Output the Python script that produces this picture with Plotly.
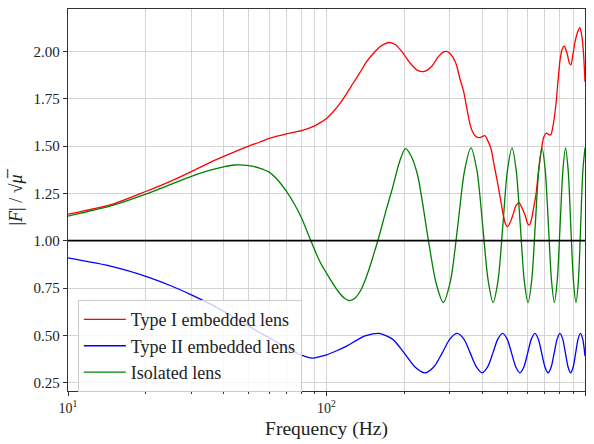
import plotly.graph_objects as go

# Frequency samples (Hz) and |F|/sqrt(mu) for each lens configuration
freq_type1 = [10, 15, 20, 25, 30, 35, 40, 45, 50, 55, 60, 70, 80, 90, 95, 100, 106, 112, 120,
              127, 135, 143, 152, 161, 168, 175, 185, 198, 210, 225, 239, 255, 270, 282, 292,
              300, 316, 329, 339, 349, 359, 369, 379, 392, 410, 420, 433, 445, 458, 471, 484,
              492, 502, 515, 527, 541, 556, 572, 588, 600, 610, 620, 632, 646, 660, 679, 694,
              710, 725, 737, 755, 773, 787, 801, 815, 831, 843, 856, 869, 882, 897, 915, 935,
              955, 970, 985, 1000]
amp_type1 = [1.14, 1.195, 1.26, 1.315, 1.365, 1.41, 1.445, 1.475, 1.50, 1.52, 1.54, 1.564, 1.581,
             1.607, 1.625, 1.646, 1.68, 1.72, 1.78, 1.833, 1.89, 1.946, 1.99, 2.024, 2.04, 2.047,
             2.035, 1.99, 1.94, 1.90, 1.894, 1.92, 1.97, 1.995, 2.0, 1.99, 1.94, 1.85, 1.79, 1.70,
             1.616, 1.57, 1.55, 1.545, 1.555, 1.53, 1.486, 1.40, 1.313, 1.22, 1.13, 1.09, 1.074,
             1.10, 1.139, 1.185, 1.20, 1.17, 1.13, 1.09, 1.083, 1.11, 1.17, 1.243, 1.36, 1.486,
             1.55, 1.568, 1.56, 1.559, 1.62, 1.729, 1.85, 1.955, 2.01, 2.028, 2.01, 1.98, 1.94,
             1.929, 1.98, 2.05, 2.10, 2.125, 2.09, 2.007, 1.84]

freq_type2 = [10, 15, 20, 25, 30, 35, 40, 45, 50, 55, 60, 65, 70, 75, 80, 88, 95, 100, 110, 120,
              130, 140, 150, 160, 180, 200, 220, 240, 260, 280, 300, 320, 340, 360, 380, 400,
              420, 440, 460, 480, 500, 520, 540, 560, 580, 600, 620, 640, 660, 680, 700, 720,
              740, 760, 780, 800, 820, 840, 860, 880, 900, 920, 940, 960, 980, 1000]
amp_type2 = [0.909, 0.862, 0.812, 0.762, 0.714, 0.67, 0.627, 0.588, 0.549, 0.515, 0.487, 0.46,
             0.435, 0.414, 0.396, 0.380, 0.389, 0.397, 0.42, 0.444, 0.472, 0.496, 0.507, 0.510,
             0.48, 0.406, 0.333, 0.302, 0.333, 0.406, 0.48, 0.51, 0.48, 0.406, 0.333, 0.302,
             0.333, 0.406, 0.48, 0.51, 0.48, 0.406, 0.333, 0.302, 0.333, 0.406, 0.48, 0.51,
             0.48, 0.406, 0.333, 0.302, 0.333, 0.406, 0.48, 0.51, 0.48, 0.406, 0.333, 0.302,
             0.333, 0.406, 0.48, 0.51, 0.48, 0.39]

freq_isolated = [10, 15, 20, 25, 30, 35, 40, 44, 50, 55, 60, 65, 70, 75, 80, 87, 94, 103, 112,
                 117, 122, 128, 135, 141, 147, 152, 158, 170, 180, 192, 202, 212, 225, 248, 265,
                 283, 302, 322, 342, 362, 382, 402, 422, 441, 461, 481, 501, 522, 542, 562, 582,
                 602, 622, 642, 662, 682, 702, 722, 742, 761, 781, 801, 821, 841, 861, 881, 902,
                 923, 943, 962, 981, 1000]
amp_isolated = [1.130, 1.188, 1.246, 1.297, 1.340, 1.370, 1.390, 1.400, 1.397, 1.384, 1.362,
                1.318, 1.26, 1.195, 1.121, 1.00, 0.893, 0.80, 0.725, 0.697, 0.684, 0.693, 0.733,
                0.79, 0.861, 0.925, 1.00, 1.16, 1.278, 1.42, 1.486, 1.45, 1.347, 1.00, 0.78,
                0.673, 0.79, 1.08, 1.37, 1.49, 1.37, 1.08, 0.79, 0.673, 0.79, 1.08, 1.37, 1.49,
                1.37, 1.08, 0.79, 0.673, 0.79, 1.08, 1.37, 1.49, 1.37, 1.08, 0.79, 0.673, 0.79,
                1.08, 1.37, 1.49, 1.37, 1.08, 0.79, 0.673, 0.79, 1.08, 1.37, 1.49]

series_names = ["Type I embedded lens", "Type II embedded lens", "Isolated lens"]
reference_level = 1.0

x_tick_vals = [10, 100, 1000]
x_tick_text = ["10<sup>1</sup>", "10<sup>2</sup>", "10<sup>3</sup>"]
x_minor_vals = [20, 30, 40, 50, 60, 70, 80, 90, 200, 300, 400, 500, 600, 700, 800, 900]
y_tick_vals = [0.25, 0.50, 0.75, 1.00, 1.25, 1.50, 1.75, 2.00]

FONT = "Liberation Serif"
GRID = "#d4d4d4"
AXIS = "#333333"

fig = go.Figure()
for f, a, name, color in [
    (freq_type1, amp_type1, series_names[0], "#ff0000"),
    (freq_type2, amp_type2, series_names[1], "#0000ff"),
    (freq_isolated, amp_isolated, series_names[2], "#008000"),
]:
    fig.add_trace(go.Scatter(
        x=f, y=a, mode="lines", name=name,
        line=dict(color=color, width=1.3, shape="spline", smoothing=0.8),
    ))

fig.add_hline(y=reference_level, line=dict(color="black", width=1.8))

fig.update_layout(
    width=594, height=444,
    margin=dict(l=68, r=9, t=8, b=48),
    paper_bgcolor="white", plot_bgcolor="white",
    font=dict(family=FONT, color="#222222", size=15),
    showlegend=True,
    legend=dict(
        x=0.019, y=-0.003, xanchor="left", yanchor="bottom",
        bgcolor="rgba(255,255,255,0.8)", bordercolor="#cccccc", borderwidth=1,
        font=dict(family=FONT, size=18, color="#222222"),
        itemwidth=42, tracegroupgap=0,
    ),
)

fig.update_xaxes(
    type="log", range=[1, 3],
    tickmode="array", tickvals=x_tick_vals, ticktext=x_tick_text,
    ticks="outside", ticklen=4, tickcolor=AXIS,
    showgrid=True, gridcolor=GRID, gridwidth=1,
    minor=dict(tickmode="array", tickvals=x_minor_vals, ticks="outside", ticklen=2,
               tickcolor=AXIS, showgrid=True, gridcolor=GRID, gridwidth=1),
    showline=True, linecolor=AXIS, linewidth=1.3, mirror=True,
    tickfont=dict(family=FONT, size=14),
    title=dict(text="Frequency (Hz)", font=dict(family=FONT, size=19.5), standoff=6),
    zeroline=False,
)

fig.update_yaxes(
    range=[0.206, 2.224],
    tickmode="array", tickvals=y_tick_vals, tickformat=".2f",
    ticks="outside", ticklen=4, tickcolor=AXIS,
    showgrid=True, gridcolor=GRID, gridwidth=1,
    showline=True, linecolor=AXIS, linewidth=1.3, mirror=True,
    tickfont=dict(family=FONT, size=15),
    title=dict(text="|<i>F</i>| / √<i>μ̅</i>", font=dict(family=FONT, size=18), standoff=6),
    zeroline=False,
)

fig.write_html("out.html")
